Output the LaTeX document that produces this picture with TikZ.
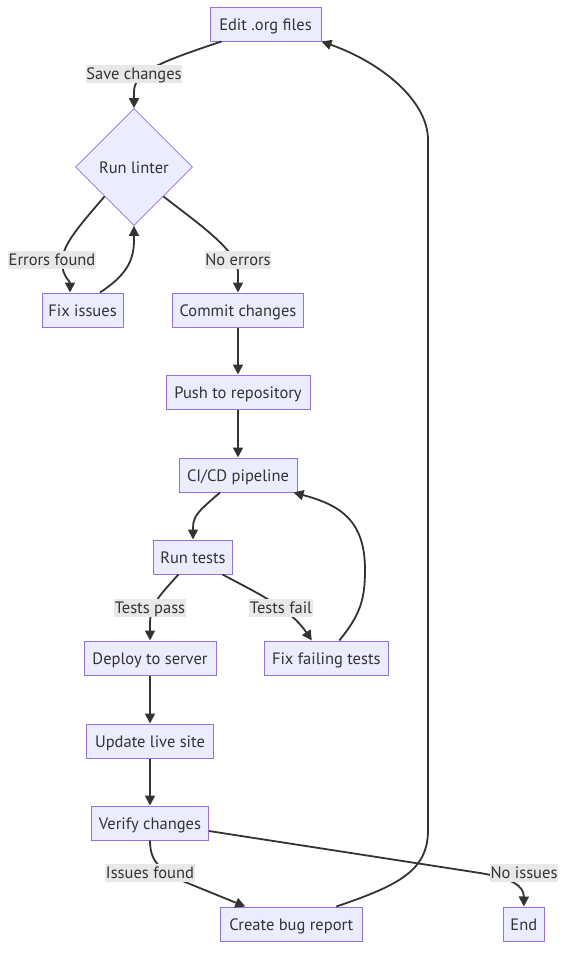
\documentclass[tikz,border=0pt]{standalone}
\usepackage{fontspec}
\setmainfont{PT Sans}
\usetikzlibrary{shapes.geometric,arrows.meta,positioning}
\definecolor{nodefill}{HTML}{ECECFF}
\definecolor{nodeline}{HTML}{9370DB}
\definecolor{edgecol}{HTML}{333333}
\definecolor{lblbg}{HTML}{E8E8E8}
\tikzset{
  txt/.style={text=edgecol,font=\fontsize{16.5}{20}\selectfont,text height=12.5pt,text depth=0.5pt},
  box/.style={txt,draw=nodeline,fill=nodefill,line width=1pt,minimum height=34pt,inner sep=0pt},
  decision/.style={txt,diamond,draw=nodeline,fill=nodefill,line width=0.8pt,minimum width=117pt,
    minimum height=117pt,inner sep=0pt},
  lbl/.style={txt,fill=lblbg,inner xsep=0.5pt,inner ysep=2pt,text depth=1.5pt},
  arr/.style={draw=edgecol,line width=1.8pt,-{Triangle[length=10pt,width=10pt]}},
}
\begin{document}
\begin{tikzpicture}[x=1pt,y=1pt]
\useasboundingbox (0,0) rectangle (572,-961);
% nodes
\node[box,minimum width=111pt] (edit) at (265.5,-24) {Edit .org files};
\node[decision] (lin) at (134,-167) {Run linter};
\node[box,minimum width=81pt] (fix) at (82.5,-310) {Fix issues};
\node[box,minimum width=131pt] (commit) at (238,-310) {Commit changes};
\node[box,minimum width=144pt] (push) at (238,-392) {Push to repository};
\node[box,minimum width=118pt] (cicd) at (238,-475) {CI/CD pipeline};
\node[box,minimum width=79pt] (tests) at (193,-557) {Run tests};
\node[box,minimum width=132pt] (deploy) at (150,-658) {Deploy to server};
\node[box,minimum width=124pt] (fixft) at (326.3,-658) {Fix failing tests};
\node[box,minimum width=127pt] (update) at (150,-741) {Update live site};
\node[box,minimum width=117pt] (verify) at (150,-823) {Verify changes};
\node[box,minimum width=142pt] (bug) at (291.3,-924) {Create bug report};
\node[box,minimum width=41pt] (end) at (523.8,-924) {End};
% edges
\draw[arr] ([xshift=12pt]edit.south west) .. controls (160,-62) and (134,-72) .. (134,-92) -- (lin.north);
\draw[arr] (lin.south west) .. controls (80,-225) and (62,-245) .. (62,-262) .. controls (62,-276) and (70,-281) .. ([xshift=-12.5pt]fix.north);
\draw[arr] ([xshift=17.5pt]fix.north) .. controls (125,-276) and (134,-262) .. (134,-240) -- (lin.south);
\draw[arr] (lin.south east) .. controls (200,-225) and (237,-250) .. (238,-272) -- (commit.north);
\draw[arr] (commit) -- (push);
\draw[arr] (push) -- (cicd);
\draw[arr] ([xshift=-18pt]cicd.south) .. controls (200,-510) and (193,-515) .. (193,-528) -- (tests.north);
\draw[arr] ([xshift=-14.5pt]tests.south) .. controls (158,-597) and (150,-605) .. (150,-625) -- (deploy.north);
\draw[arr] ([xshift=29.5pt]tests.south) .. controls (255,-592) and (290,-608) .. ([xshift=-14.5pt]fixft.north);
\draw[arr] ([xshift=13pt]fixft.north) .. controls (360,-615) and (365,-600) .. (365,-570) .. controls (365,-520) and (340,-505) .. ([xshift=-4pt]cicd.south east);
\draw[arr] (deploy) -- (update);
\draw[arr] (update) -- (verify);
\draw[arr] (verify.south) .. controls (150,-862) and (160,-870) .. (185,-882) -- ([xshift=-46pt]bug.north);
\draw[arr] ([yshift=-8pt]verify.east) -- (480,-873) .. controls (510,-878) and (524,-885) .. (end.north);
\draw[arr] ([xshift=45pt]bug.north) .. controls (400,-885) and (428,-870) .. (428,-830) -- (428,-140) .. controls (428,-100) and (380,-62) .. (edit.south east);
% labels
\node[lbl] (l1) at (134,-74) {Save changes};
\node[lbl] (l2) at (52,-260) {Errors found};
\node[lbl] (l3) at (238,-260) {No errors};
\node[lbl] (l4) at (150,-608) {Tests pass};
\node[lbl] (l5) at (281,-608) {Tests fail};
\node[lbl] (l6) at (150,-873) {Issues found};
\node[lbl] (l7) at (524,-873) {No issues};
\end{tikzpicture}
\end{document}
